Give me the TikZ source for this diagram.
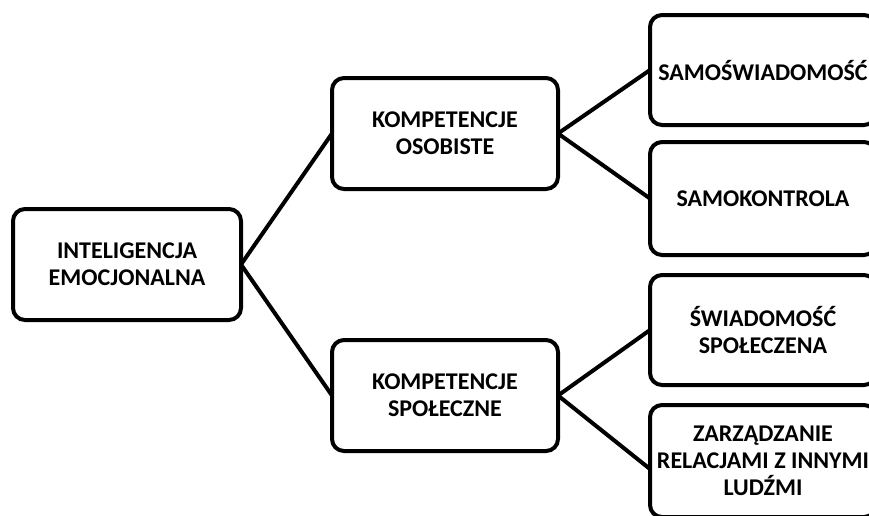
\documentclass[tikz,border=0pt]{standalone}
\usepackage{fontspec}
\setmainfont{Carlito}
\begin{document}
\begin{tikzpicture}[x=1pt,y=-1pt,
  box/.style={draw, line width=4pt, rounded corners=12pt, outer sep=0pt,
    align=center, font=\bfseries\fontsize{24}{27}\selectfont, inner sep=0pt},
  link/.style={line width=4pt}]
\useasboundingbox (0,0) rectangle (869,515);
\clip (0,0) rectangle (869,515);
% root
\node[box, minimum width=228pt, minimum height=111pt] (root) at (127,264.5) {INTELIGENCJA\\EMOCJONALNA};
% second level
\node[box, minimum width=226pt, minimum height=111pt] (pers) at (445,133.5) {KOMPETENCJE\\OSOBISTE};
\node[box, minimum width=226pt, minimum height=111pt] (soc) at (445,395.5) {KOMPETENCJE\\SPOŁECZNE};
% third level
\node[box, minimum width=226pt, minimum height=110pt] (aware) at (763,70) {SAMOŚWIADOMOŚĆ};
\node[box, minimum width=226pt, minimum height=113pt] (ctrl) at (763,198.5) {SAMOKONTROLA};
\node[box, minimum width=226pt, minimum height=110pt] (sawar) at (763,330) {ŚWIADOMOŚĆ\\SPOŁECZENA};
\node[box, minimum width=226pt, minimum height=112pt] (rel) at (763,461) {ZARZĄDZANIE\\RELACJAMI Z INNYMI\\LUDŹMI};
% connectors
\draw[link] (root.east) -- (pers.west);
\draw[link] (root.east) -- (soc.west);
\draw[link] (pers.east) -- (aware.west);
\draw[link] (pers.east) -- (ctrl.west);
\draw[link] (soc.east) -- (sawar.west);
\draw[link] (soc.east) -- ([yshift=-8pt]rel.west);
\end{tikzpicture}
\end{document}
